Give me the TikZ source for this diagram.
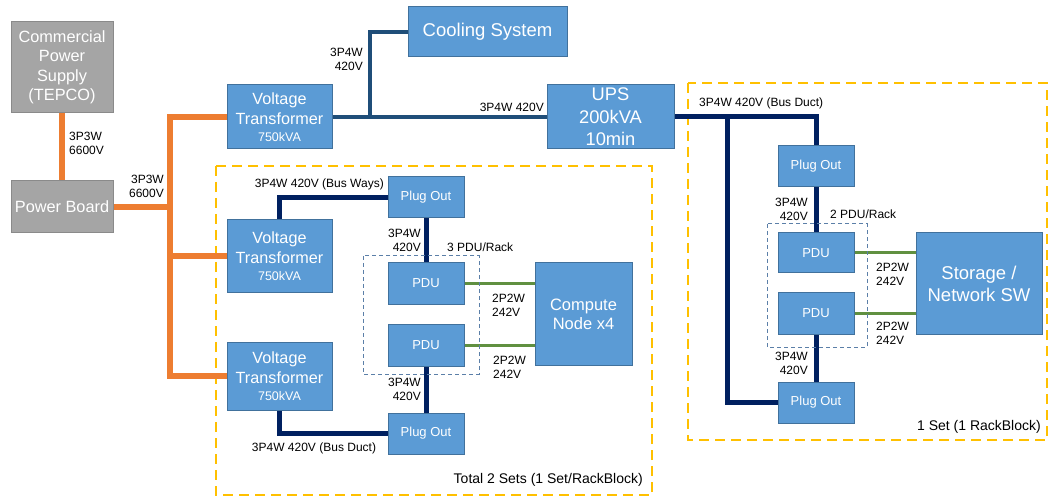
\documentclass[tikz,border=0pt]{standalone}
\usepackage{fontspec}
\setmainfont{Liberation Sans}
\usetikzlibrary{backgrounds}
\definecolor{boxfill}{HTML}{5B9BD5}
\definecolor{boxline}{HTML}{41719C}
\definecolor{grayfill}{HTML}{A5A5A5}
\definecolor{grayline}{HTML}{8A8A8A}
\definecolor{orng}{HTML}{ED7D31}
\definecolor{navy}{HTML}{002060}
\definecolor{coolc}{HTML}{1F4E79}
\definecolor{grn}{HTML}{609040}
\definecolor{yel}{HTML}{FFC000}
\definecolor{rackc}{HTML}{5B7FA8}
\newcommand{\vttext}{Voltage\\Transformer\\[-3pt]{\fontsize{12.5}{15}\selectfont 750kVA}}
\tikzset{
  bx/.style={draw=boxline, line width=1pt, fill=boxfill, text=white, align=center, inner sep=0pt},
  gbx/.style={draw=grayline, line width=1pt, fill=grayfill, text=white, align=center, inner sep=0pt},
  lbl/.style={inner sep=0pt, font=\fontsize{12}{14}\selectfont, text=black},
  setlbl/.style={inner sep=0pt, font=\fontsize{14}{16}\selectfont, text=black},
  orline/.style={draw=orng, line width=6pt, line join=miter},
  nvline/.style={draw=navy, line width=5pt, line join=miter},
  clline/.style={draw=coolc, line width=4pt, line join=miter},
  gnline/.style={draw=grn, line width=3pt},
  setbox/.style={draw=yel, line width=2.5pt, dash pattern=on 10pt off 6pt},
  rackbox/.style={draw=rackc, line width=1pt, dash pattern=on 4pt off 3pt},
  big/.style={font=\fontsize{18.5}{22}\selectfont},
  mid/.style={font=\fontsize{16.3}{19.5}\selectfont},
  vtf/.style={font=\fontsize{16.2}{20}\selectfont},
  sml/.style={font=\fontsize{13}{15}\selectfont}
}
\begin{document}
\begin{tikzpicture}[x=1pt,y=-1pt]
\useasboundingbox (0,0) rectangle (1050,497);
% boxes
\node[gbx, mid, minimum width=102pt, minimum height=91pt] (comm) at (62,67.5) {Commercial\\Power\\Supply\\(TEPCO)};
\node[gbx, mid, minimum width=102pt, minimum height=52pt] (pb) at (62,207) {Power Board};
\node[bx, vtf, minimum width=105pt, minimum height=64pt] (vt1) at (279.5,117) {\vttext};
\node[bx, vtf, minimum width=105pt, minimum height=73pt] (vt2) at (279.5,256.5) {\vttext};
\node[bx, vtf, minimum width=105pt, minimum height=68pt] (vt3) at (279.5,376) {\vttext};
\node[bx, big, minimum width=159pt, minimum height=50pt] (cool) at (487.5,32) {Cooling System};
\node[bx, font=\fontsize{18.3}{22.5}\selectfont, minimum width=127pt, minimum height=64pt] (ups) at (610.5,117) {UPS\\200kVA\\10min};
\node[bx, sml, minimum width=76pt, minimum height=41pt] (po1) at (426,197.5) {Plug Out};
\node[bx, sml, minimum width=76pt, minimum height=41pt] (pdu1) at (426,283.5) {PDU};
\node[bx, sml, minimum width=76pt, minimum height=42pt] (pdu2) at (426,345) {PDU};
\node[bx, sml, minimum width=76pt, minimum height=41pt] (po2) at (426,433.5) {Plug Out};
\node[bx, font=\fontsize{16.5}{19}\selectfont, minimum width=97pt, minimum height=102pt] (cn) at (583.5,314) {Compute\\Node x4};
\node[bx, sml, minimum width=76pt, minimum height=41pt] (po3) at (816,166.5) {Plug Out};
\node[bx, sml, minimum width=76pt, minimum height=40pt] (pdu3) at (816,253) {PDU};
\node[bx, sml, minimum width=76pt, minimum height=41pt] (pdu4) at (816,313.5) {PDU};
\node[bx, sml, minimum width=76pt, minimum height=41pt] (po4) at (816,402.5) {Plug Out};
\node[bx, big, minimum width=126pt, minimum height=101pt] (st) at (979,283.5) {Storage /\\Network SW};
% junction coordinates
\coordinate (bT) at (170,117);
\coordinate (bB) at (170,376);
\coordinate (cj) at (370,117);
\coordinate (nj) at (727,117);
% labels
\node[lbl, anchor=west, align=left] (l1) at (69,143) {3P3W\\6600V};
\node[lbl, anchor=east, align=right] (l2) at (164,186) {3P3W\\6600V};
\node[lbl, anchor=east, align=right] (l3) at (363,59) {3P4W\\420V};
\node[lbl, anchor=east] (l4) at (544,107) {3P4W 420V};
\node[lbl, anchor=west] (l5) at (699,103) {3P4W 420V (Bus Duct)};
\node[lbl, anchor=east] (l6) at (384,184) {3P4W 420V (Bus Ways)};
\node[lbl, anchor=east, align=right] (l7) at (421,240) {3P4W\\420V};
\node[lbl, anchor=west] (l8) at (447,247) {3 PDU/Rack};
\node[lbl, anchor=west, align=left] (l9) at (492,305) {2P2W\\242V};
\node[lbl, anchor=west, align=left] (l10) at (493,367) {2P2W\\242V};
\node[lbl, anchor=east, align=right] (l11) at (421,389) {3P4W\\420V};
\node[lbl] (l12) at (314,448) {3P4W 420V (Bus Duct)};
\node[setlbl, anchor=east] (l13) at (643,480) {Total 2 Sets (1 Set/RackBlock)};
\node[lbl, anchor=east, align=right] (l14) at (808,209) {3P4W\\420V};
\node[lbl, anchor=west] (l15) at (830,214) {2 PDU/Rack};
\node[lbl, anchor=west, align=left] (l16) at (876,274) {2P2W\\242V};
\node[lbl, anchor=west, align=left] (l17) at (876,333) {2P2W\\242V};
\node[lbl, anchor=east, align=right] (l18) at (808,363) {3P4W\\420V};
\node[setlbl, anchor=east] (l19) at (1041,427) {1 Set (1 RackBlock)};
\begin{scope}[on background layer]
  \draw[setbox] (216,166) rectangle (652,495);
  \draw[setbox] (688,83) rectangle (1047,440);
  % orange feed
  \draw[orline] (comm.south) -- (pb.north);
  \draw[orline] (pb.east) -- (pb.east -| bT);
  \draw[orline] (vt1.west) -- (bT) -- (bB) -- (vt3.west);
  \draw[orline] (vt2.west) -- (vt2.west -| bT);
  % cooling / UPS feed
  \draw[clline] (vt1.east) -- (ups.west);
  \draw[clline] (cool.west) -| (cj);
  % navy bus
  \draw[nvline] (ups.east) -| (po3.north);
  \draw[nvline] (nj) |- (po4.west);
  \draw[nvline] (po3) -- (pdu3);
  \draw[nvline] (pdu4) -- (po4);
  \draw[nvline] (vt2.north) |- (po1.west);
  \draw[nvline] (vt3.south) |- (po2.west);
  \draw[nvline] (po1) -- (pdu1);
  \draw[nvline] (pdu2) -- (po2);
  % green
  \draw[gnline] (pdu1.east) -- (pdu1.east -| cn.west);
  \draw[gnline] (pdu2.east) -- (pdu2.east -| cn.west);
  \draw[gnline] (pdu3.east) -- (pdu3.east -| st.west);
  \draw[gnline] (pdu4.east) -- (pdu4.east -| st.west);
\end{scope}
\draw[rackbox] (363,256) rectangle (479,374);
\draw[rackbox] (767,224) rectangle (867,347);
\end{tikzpicture}
\end{document}
